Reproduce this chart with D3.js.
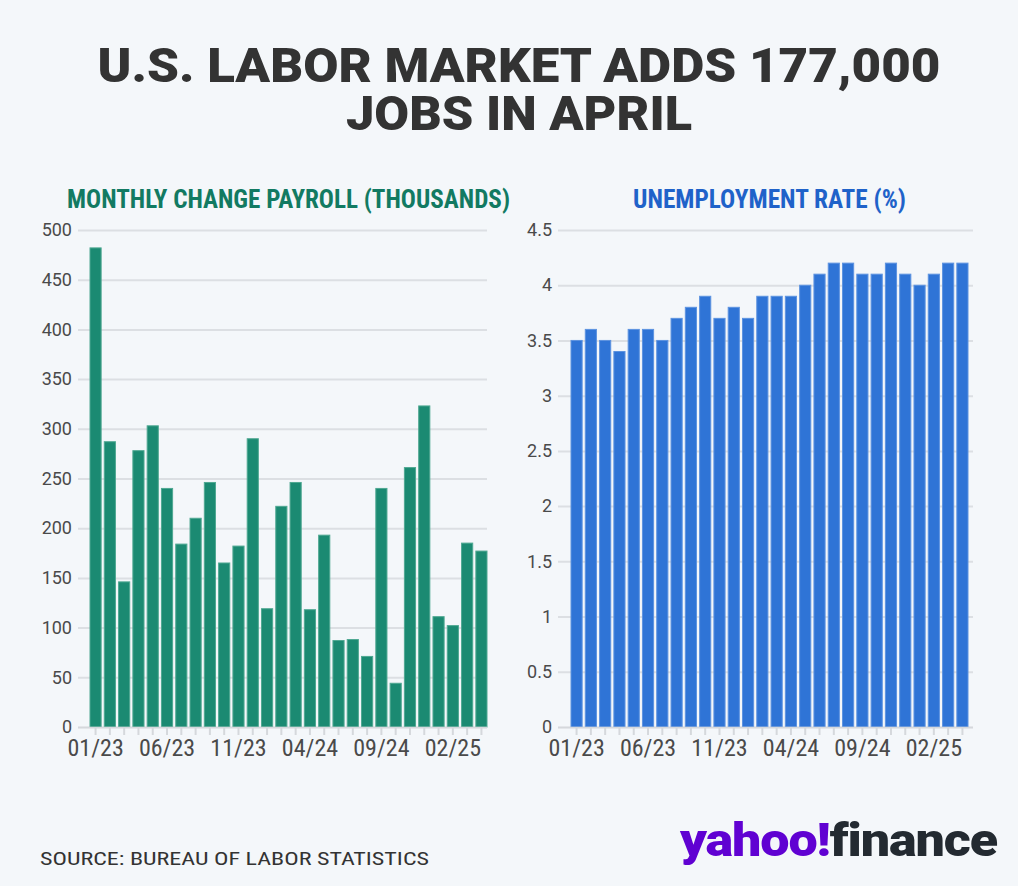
<!DOCTYPE html>
<html><head><meta charset="utf-8">
<script src="https://cdn.jsdelivr.net/npm/d3@7"></script>
<style>
html,body{margin:0;padding:0;background:#f4f7fa;}
svg{display:block;}
</style></head>
<body>
<svg id="c" width="1018" height="886"></svg>
<script>
const months = ["01/23","02/23","03/23","04/23","05/23","06/23","07/23","08/23","09/23","10/23","11/23","12/23",
"01/24","02/24","03/24","04/24","05/24","06/24","07/24","08/24","09/24","10/24","11/24","12/24",
"01/25","02/25","03/25","04/25"];
const payrolls = [482,287,146,278,303,240,184,210,246,165,182,290,119,222,246,118,193,87,88,71,240,44,261,323,111,102,185,177];
const unemployment = [3.5,3.6,3.5,3.4,3.6,3.6,3.5,3.7,3.8,3.9,3.7,3.8,3.7,3.9,3.9,3.9,4.0,4.1,4.2,4.2,4.1,4.1,4.2,4.1,4.0,4.1,4.2,4.2];
const xTickLabels = ["01/23","06/23","11/23","04/24","09/24","02/25"];
const payrollTicks = [0,50,100,150,200,250,300,350,400,450,500];
const rateTicks = [0,0.5,1,1.5,2,2.5,3,3.5,4,4.5];
const titleLines = ["U.S. LABOR MARKET ADDS 177,000","JOBS IN APRIL"];

const svg = d3.select("#c");
svg.append("rect").attr("width",1018).attr("height",886).attr("fill","#f4f7fa");

const condensed = "'Roboto Condensed','Liberation Sans Narrow','Arial Narrow',Roboto,sans-serif";

function fitText(sel, width){
  sel.attr("textLength", width).attr("lengthAdjust","spacingAndGlyphs");
}

// Title (one text element, two lines)
const title = svg.append("text").attr("text-anchor","middle")
  .attr("font-family","Roboto,sans-serif").attr("font-weight",900).attr("font-size",49)
  .attr("fill","#333");
const tw = [843, 346];
const ty = [82, 130];
titleLines.forEach((l,i)=>{
  title.append("tspan").attr("x",519).attr("y",ty[i]).attr("textLength",tw[i])
    .attr("lengthAdjust","spacingAndGlyphs").text(l);
});

function panel(opts){
  const {x0,x1,gridL,labelX,data,ticks,max,color,stroke,title,titleX,titleW,titleColor} = opts;
  const y = d3.scaleLinear().domain([0,max]).range([727,230]);
  const x = d3.scaleBand().domain(months).range([x0,x1]).paddingInner(0.22).paddingOuter(0.0);
  const g = svg.append("g");
  const yAxis = d3.axisLeft(y).tickValues(ticks).tickSize(-(opts.gridR-gridL)).tickPadding(6)
    .tickFormat(d=>String(d));
  const ga = g.append("g").attr("transform",`translate(${gridL},0)`).call(yAxis);
  ga.select(".domain").remove();
  ga.selectAll(".tick line").attr("stroke","#dcdfe3").attr("stroke-width",2);
  ga.selectAll(".tick text").attr("x", labelX-gridL).attr("font-family","Roboto,sans-serif")
    .attr("font-size",18).attr("fill","#4a4a4a").attr("text-anchor","end");
  const xAxis = d3.axisBottom(x).tickSize(7).tickPadding(4)
    .tickFormat(d=> xTickLabels.includes(d) ? d : "");
  const gx = g.append("g").attr("transform","translate(0,728)").call(xAxis);
  gx.select(".domain").remove();
  gx.selectAll(".tick line").attr("stroke","#d5d8dc").attr("stroke-width",2);
  gx.selectAll(".tick text").attr("font-family",condensed).attr("font-size",24).attr("fill","#4a4a4a");
  g.append("g").selectAll("rect").data(data).join("rect")
    .attr("x",(d,i)=>x(months[i])).attr("width",x.bandwidth())
    .attr("y",d=>y(d)).attr("height",d=>y(0)-y(d))
    .attr("fill",color).attr("stroke",stroke).attr("stroke-width",1);
  g.append("line").attr("x1",gridL).attr("x2",opts.gridR).attr("y1",727.5).attr("y2",727.5)
    .attr("stroke","#d5d8dc").attr("stroke-width",1.5);
  const tt = svg.append("text").attr("x",titleX).attr("y",208).attr("font-family",condensed)
    .attr("font-weight",700).attr("font-size",25).attr("fill",titleColor).text(title);
  fitText(tt, titleW);
}

panel({x0:90,x1:487,gridL:78,gridR:487,labelX:72,data:payrolls,ticks:payrollTicks,max:500,
  color:"#1b8a72",stroke:"#4fa892",title:"MONTHLY CHANGE PAYROLL (THOUSANDS)",titleX:67,titleW:443,titleColor:"#127a62"});
panel({x0:571,x1:968,gridL:558,gridR:973,labelX:552,data:unemployment,ticks:rateTicks,max:4.5,
  color:"#2f74d6",stroke:"#5d93e0",title:"UNEMPLOYMENT RATE (%)",titleX:633,titleW:273,titleColor:"#1f62c9"});

const src = svg.append("text").attr("x",40).attr("y",865).attr("font-family",condensed)
  .attr("font-size",19).attr("fill","#333").text("SOURCE: BUREAU OF LABOR STATISTICS");
fitText(src, 389);

const logo = svg.append("text").attr("x",680).attr("y",856).attr("font-family","Roboto,sans-serif")
  .attr("font-weight",900).attr("font-size",46).attr("letter-spacing",-1);
logo.append("tspan").attr("fill","#6001d2").text("yahoo!");
logo.append("tspan").attr("fill","#232a31").text("finance");
fitText(logo, 317);
</script>
</body></html>
